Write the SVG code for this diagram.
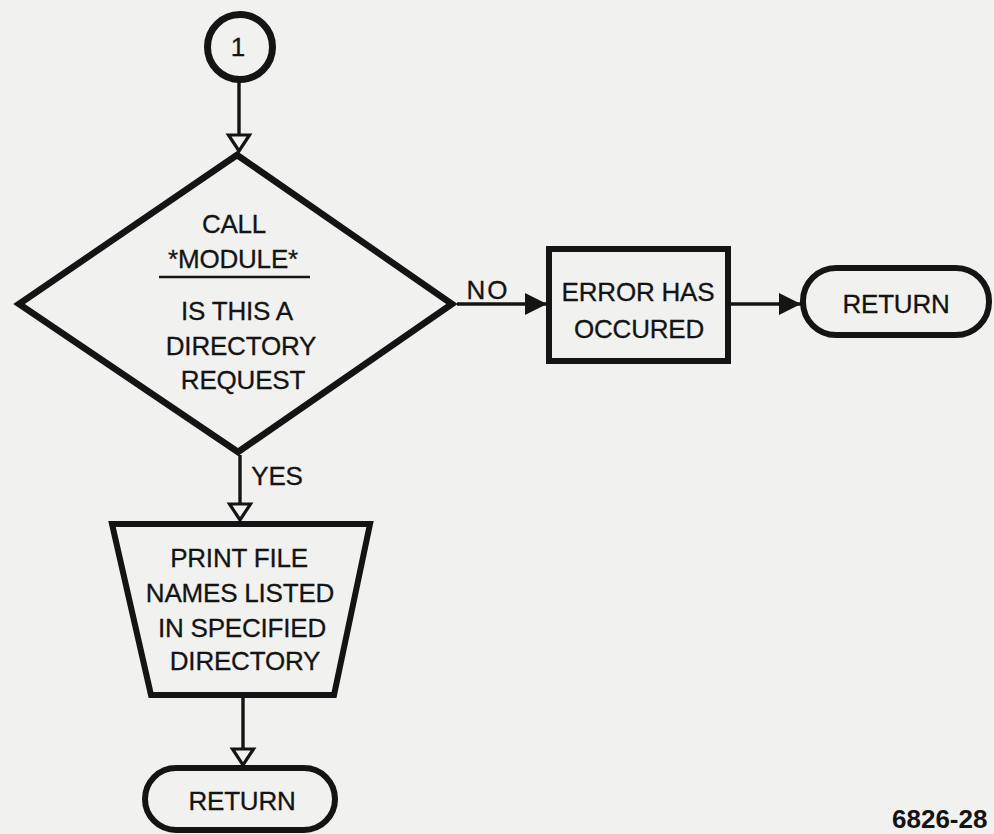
<svg xmlns="http://www.w3.org/2000/svg" width="994" height="834" viewBox="0 0 994 834">
<style>
.shape{fill:none;stroke:#141414;stroke-linejoin:miter}
.t{font-family:"Liberation Sans",Arial,sans-serif;font-size:26px;letter-spacing:-0.2px;fill:#141414;stroke:#141414;stroke-width:0.3;text-anchor:middle}
.conn{stroke:#141414;stroke-width:3.4;fill:none}
</style>
<defs>
<marker id="open" markerUnits="userSpaceOnUse" viewBox="-3 -14 22 28" markerWidth="22" markerHeight="28" refX="16" refY="0" orient="auto">
<path d="M0,-10.5 L16,0 L0,10.5 Z" fill="#f1f1ef" stroke="#141414" stroke-width="3.2" stroke-linejoin="miter"/>
</marker>
<marker id="fill" markerUnits="userSpaceOnUse" viewBox="0 -12 23 24" markerWidth="23" markerHeight="24" refX="22" refY="0" orient="auto">
<path d="M0,-11 L22,0 L0,11 Z" fill="#141414"/>
</marker>
</defs>
<rect x="0" y="0" width="994" height="834" fill="#f1f1ef"/>

<g id="connectors">
<line class="conn" x1="239" y1="82" x2="239" y2="151" marker-end="url(#open)"/>
<line class="conn" x1="240" y1="455" x2="240" y2="520" marker-end="url(#open)"/>
<line class="conn" x1="243" y1="697" x2="243" y2="765" marker-end="url(#open)"/>
<line class="conn" x1="457" y1="304" x2="547" y2="304" marker-end="url(#fill)"/>
<line class="conn" x1="730" y1="304" x2="801" y2="304" marker-end="url(#fill)"/>
<text class="t" x="488" y="299" style="letter-spacing:2px">NO</text>
<text class="t" x="277" y="485">YES</text>
</g>

<g id="start">
<circle class="shape" cx="240" cy="47" r="32.5" stroke-width="7"/>
<text class="t" x="238" y="56" font-size="28">1</text>
</g>

<g id="decision">
<polygon class="shape" points="237,155 452,304 238,452 19,304" stroke-width="6.5"/>
<text class="t" x="234" y="233">CALL</text>
<text class="t" x="233" y="268">*MODULE*</text>
<line x1="159" y1="277" x2="310" y2="277" stroke="#141414" stroke-width="2.6"/>
<text class="t" x="237" y="320">IS THIS A</text>
<text class="t" x="241" y="355">DIRECTORY</text>
<text class="t" x="243" y="389">REQUEST</text>
</g>

<g id="error">
<rect class="shape" x="549" y="249" width="179" height="112" stroke-width="6"/>
<text class="t" x="638" y="301">ERROR HAS</text>
<text class="t" x="639" y="338">OCCURED</text>
</g>

<g id="return1">
<rect class="shape" x="803" y="268" width="186" height="67" rx="33" ry="33" stroke-width="6"/>
<text class="t" x="896" y="313">RETURN</text>
</g>

<g id="print">
<polygon class="shape" points="112,524 370,524 334,695 151,695" stroke-width="6"/>
<text class="t" x="239" y="567">PRINT FILE</text>
<text class="t" x="240" y="602">NAMES LISTED</text>
<text class="t" x="242" y="637">IN SPECIFIED</text>
<text class="t" x="245" y="670">DIRECTORY</text>
</g>

<g id="return2">
<rect class="shape" x="145" y="768" width="190" height="62" rx="31" ry="31" stroke-width="6"/>
<text class="t" x="242" y="810">RETURN</text>
</g>

<text x="892" y="828" font-family="'Liberation Sans',Arial,sans-serif" font-size="26" font-weight="bold" fill="#141414">6826-28</text>
</svg>
